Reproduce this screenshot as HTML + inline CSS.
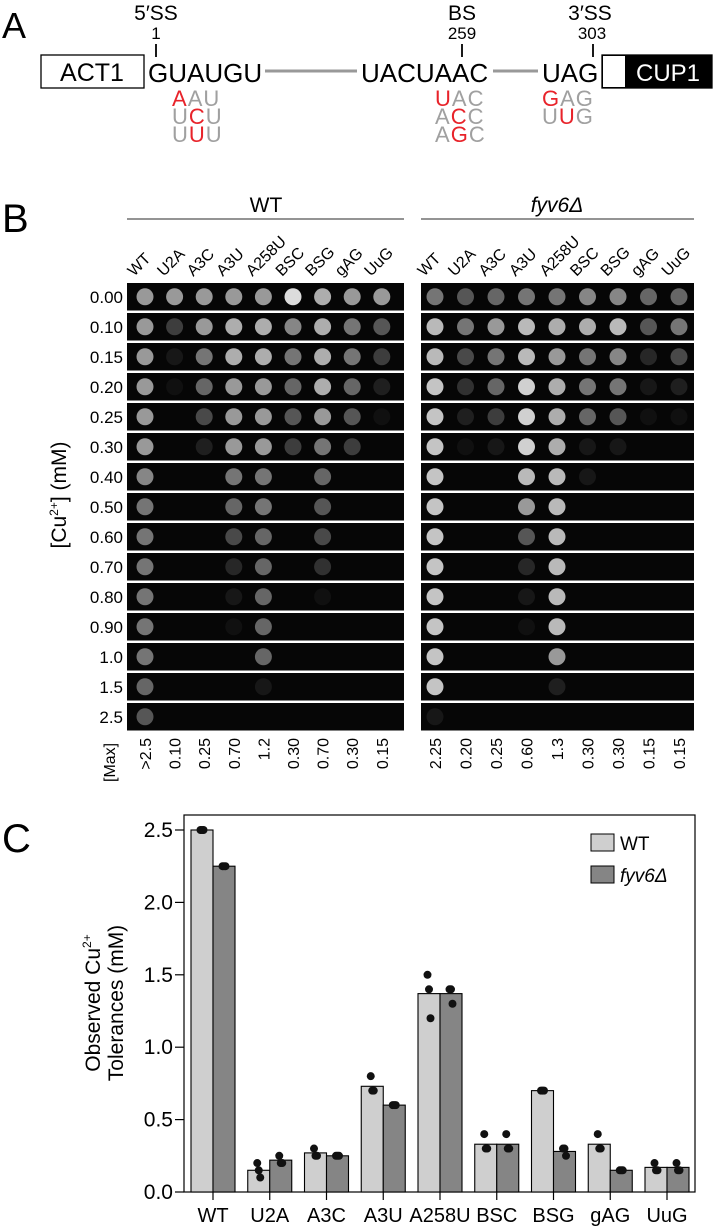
<!DOCTYPE html>
<html><head><meta charset="utf-8">
<style>
html,body{margin:0;padding:0;background:#fff;}
svg{display:block;font-family:"Liberation Sans",Arial,sans-serif;}
</style></head>
<body>
<svg id="fig" width="714" height="1227" viewBox="0 0 714 1227" xmlns="http://www.w3.org/2000/svg">
<!-- Panel A -->
<g>
<text x="2" y="38" font-size="36">A</text>
<rect x="41" y="55" width="103" height="33" fill="#fff" stroke="#000" stroke-width="1.3"/>
<text x="92" y="81" font-size="25" text-anchor="middle">ACT1</text>
<text x="156" y="20" font-size="21" text-anchor="middle">5′SS</text>
<text x="156" y="39" font-size="17" text-anchor="middle">1</text>
<line x1="156" y1="44" x2="156" y2="57" stroke="#000" stroke-width="1.8"/>
<text x="148" y="82" font-size="26">GUAUGU</text>
<line x1="265" y1="71" x2="357" y2="71" stroke="#999" stroke-width="3"/>
<text x="361" y="82" font-size="26">UACUAAC</text>
<text x="462" y="20" font-size="21" text-anchor="middle">BS</text>
<text x="462" y="39" font-size="17" text-anchor="middle">259</text>
<line x1="462" y1="44" x2="462" y2="57" stroke="#000" stroke-width="1.8"/>
<line x1="493" y1="71" x2="538" y2="71" stroke="#999" stroke-width="3"/>
<text x="542" y="82" font-size="26">UAG</text>
<text x="590" y="20" font-size="21" text-anchor="middle">3′SS</text>
<text x="592" y="39" font-size="17" text-anchor="middle">303</text>
<line x1="593" y1="44" x2="593" y2="57" stroke="#000" stroke-width="1.8"/>
<rect x="602" y="55" width="110" height="33" fill="#000" stroke="#000" stroke-width="1.3"/>
<rect x="603" y="56" width="22" height="31" fill="#fff"/>
<text x="668" y="81" font-size="24" fill="#fff" text-anchor="middle">CUP1</text>
<g font-size="22" fill="#a0a0a0" letter-spacing="1">
<text x="172" y="106"><tspan fill="#e8232a">A</tspan>AU</text>
<text x="172" y="124">U<tspan fill="#e8232a">C</tspan>U</text>
<text x="172" y="142">U<tspan fill="#e8232a">U</tspan>U</text>
<text x="435" y="106"><tspan fill="#e8232a">U</tspan>AC</text>
<text x="435" y="124">A<tspan fill="#e8232a">C</tspan>C</text>
<text x="435" y="142">A<tspan fill="#e8232a">G</tspan>C</text>
<text x="542" y="106"><tspan fill="#e8232a">G</tspan>AG</text>
<text x="542" y="124">U<tspan fill="#e8232a">U</tspan>G</text>
</g>
</g>
<!-- Panel B -->
<g id="panelB">
<text x="2" y="232" font-size="40">B</text>
<text x="266" y="212" font-size="21" text-anchor="middle">WT</text>
<line x1="127" y1="219" x2="404" y2="219" stroke="#555" stroke-width="1.3"/>
<text x="557" y="212" font-size="21" font-style="italic" text-anchor="middle">fyv6Δ</text>
<line x1="421" y1="219" x2="694" y2="219" stroke="#555" stroke-width="1.3"/>
<text transform="translate(66,495) rotate(-90)" font-size="21" text-anchor="middle">[Cu<tspan font-size="12" dy="-8">2+</tspan><tspan dy="8">] (mM)</tspan></text>
<text transform="translate(115,782) rotate(-90)" font-size="16">[Max]</text>
</g>
<!-- Panel C -->
<g id="panelC">
<text x="2" y="852" font-size="40">C</text>
<rect x="184" y="815" width="511" height="377" fill="none" stroke="#000" stroke-width="1.2"/>
<text transform="translate(100,1003) rotate(-90)" font-size="21" text-anchor="middle">Observed Cu<tspan font-size="12" dy="-9">2+</tspan></text>
<text transform="translate(123,1003) rotate(-90)" font-size="21" text-anchor="middle">Tolerances (mM)</text>
<rect x="591" y="834" width="23" height="17" fill="#cfcfcf" stroke="#000" stroke-width="1"/>
<text x="620" y="850" font-size="19">WT</text>
<rect x="591" y="866" width="23" height="17" fill="#858585" stroke="#000" stroke-width="1"/>
<text x="620" y="882" font-size="19" font-style="italic">fyv6Δ</text>
</g>
</svg>
<script>
const NS="http://www.w3.org/2000/svg";
// ---- Panel B data ----
const strains=["WT","U2A","A3C","A3U","A258U","BSC","BSG","gAG","UuG"];
const cuLevels=["0.00","0.10","0.15","0.20","0.25","0.30","0.40","0.50","0.60","0.70","0.80","0.90","1.0","1.5","2.5"];
const maxWT=[">2.5","0.10","0.25","0.70","1.2","0.30","0.70","0.30","0.15"];
const maxFyv6=["2.25","0.20","0.25","0.60","1.3","0.30","0.30","0.15","0.15"];
const growthWT=[
[.6,.6,.6,.6,.6,.85,.65,.6,.6],
[.6,.3,.6,.65,.65,.55,.65,.5,.4],
[.6,.1,.5,.65,.65,.5,.65,.5,.3],
[.6,.05,.45,.6,.6,.45,.65,.45,.15],
[.6,0,.35,.6,.6,.4,.6,.4,.05],
[.6,0,.15,.6,.6,.3,.5,.3,0],
[.55,0,0,.5,.5,0,.45,0,0],
[.5,0,0,.45,.5,0,.4,0,0],
[.5,0,0,.35,.45,0,.35,0,0],
[.5,0,0,.2,.45,0,.25,0,0],
[.5,0,0,.1,.45,0,.05,0,0],
[.5,0,0,.05,.45,0,0,0,0],
[.5,0,0,0,.45,0,0,0,0],
[.45,0,0,0,.1,0,0,0,0],
[.4,0,0,0,0,0,0,0,0]];
const growthFyv6=[
[.5,.4,.45,.5,.5,.55,.55,.45,.45],
[.7,.5,.6,.7,.65,.65,.7,.4,.5],
[.7,.35,.5,.7,.6,.5,.55,.2,.35],
[.75,.25,.45,.8,.65,.5,.5,.1,.15],
[.75,.15,.3,.8,.65,.45,.4,.05,.05],
[.75,.05,.1,.8,.65,.1,.1,0,0],
[.75,0,0,.7,.7,.1,0,0,0],
[.75,0,0,.6,.7,0,0,0,0],
[.75,0,0,.4,.7,0,0,0,0],
[.75,0,0,.2,.7,0,0,0,0],
[.75,0,0,.1,.7,0,0,0,0],
[.75,0,0,.05,.7,0,0,0,0],
[.75,0,0,0,.6,0,0,0,0],
[.75,0,0,0,.15,0,0,0,0],
[.1,0,0,0,0,0,0,0,0]];
// ---- Panel C data ----
const categories=["WT","U2A","A3C","A3U","A258U","BSC","BSG","gAG","UuG"];
const meanWT=[2.5,0.15,0.27,0.73,1.37,0.33,0.70,0.33,0.17];
const meanFyv6=[2.25,0.22,0.25,0.60,1.37,0.33,0.28,0.15,0.17];
const repsWT=[[2.5,2.5,2.5],[0.2,0.15,0.1],[0.3,0.25,0.25],[0.8,0.7,0.7],[1.5,1.4,1.2],[0.4,0.3,0.3],[0.7,0.7,0.7],[0.4,0.3,0.3],[0.2,0.15,0.15]];
const repsFyv6=[[2.25,2.25,2.25],[0.25,0.2,0.2],[0.25,0.25,0.25],[0.6,0.6,0.6],[1.4,1.4,1.3],[0.4,0.3,0.3],[0.3,0.3,0.25],[0.15,0.15,0.15],[0.2,0.15,0.15]];
const yTicks=[0,0.5,1.0,1.5,2.0,2.5];

function mk(tag,attrs,parent){const e=document.createElementNS(NS,tag);for(const k in attrs)e.setAttribute(k,attrs[k]);parent.appendChild(e);return e;}

// Panel B
const pb=document.getElementById("panelB");
const rowY=i=>283+i*30;
const panels=[{x0:127,w:277,cx:i=>145+i*29.6,g:growthWT,max:maxWT},{x0:421,w:273,cx:i=>435+i*30.5,g:growthFyv6,max:maxFyv6}];
panels.forEach(p=>{
  strains.forEach((s,j)=>{
    const t=mk("text",{transform:`translate(${p.cx(j)-11},277) rotate(-45)`,"font-size":"16"},pb);
    t.textContent=s;
    
    
    const m=mk("text",{transform:`translate(${p.cx(j)+6},738) rotate(-90)`,"font-size":"16","text-anchor":"end"},pb);
    m.textContent=p.max[j];
    
    
  });
  cuLevels.forEach((lv,i)=>{
    const r=mk("rect",{x:p.x0,y:rowY(i),width:p.w,height:27.5,fill:"#060606"},pb);
    
    
    strains.forEach((s,j)=>{
      const v=p.g[i][j];
      if(v<=0)return;
      const c=Math.round(20+v*235);
      const sp=mk("circle",{cx:p.cx(j),cy:rowY(i)+13.75,r:8.5,fill:`rgb(${c},${c},${c})`,opacity:Math.min(1,0.35+v)},pb);
      
      
    });
  });
});
cuLevels.forEach((lv,i)=>{
  const t=mk("text",{x:123,y:rowY(i)+20,"font-size":"17","text-anchor":"end"},pb);
  t.textContent=lv;
  
  
});

// Panel C
const pc=document.getElementById("panelC");
const yS=v=>1192-v*144.8;
const xS=i=>213+i*56.75;
const bw=22;
yTicks.forEach(v=>{
  const l=mk("line",{x1:175,x2:184,y1:yS(v),y2:yS(v),stroke:"#000","stroke-width":1.2},pc);
  
  
  const t=mk("text",{x:173,y:yS(v)+7,"font-size":"21","text-anchor":"end"},pc);
  t.textContent=v.toFixed(1);
  
  
});
const offs=[-3,0,3];
categories.forEach((c,i)=>{
  const x=xS(i);
  const b1=mk("rect",{x:x-bw,y:yS(meanWT[i]),width:bw,height:yS(0)-yS(meanWT[i]),fill:"#cfcfcf",stroke:"#000","stroke-width":1.1},pc);
  
  
  const b2=mk("rect",{x:x,y:yS(meanFyv6[i]),width:bw,height:yS(0)-yS(meanFyv6[i]),fill:"#858585",stroke:"#000","stroke-width":1.1},pc);
  
  
  repsWT[i].forEach((v,k)=>{
    const d=mk("circle",{cx:x-bw/2+offs[k]*0.5,cy:yS(v),r:4,fill:"#111"},pc);
    
    
  });
  repsFyv6[i].forEach((v,k)=>{
    const d=mk("circle",{cx:x+bw/2+offs[k]*0.5,cy:yS(v),r:4,fill:"#111"},pc);
    
    
  });
  const tk=mk("line",{x1:x,x2:x,y1:1192,y2:1200,stroke:"#000","stroke-width":1.2},pc);
  
  
  const t=mk("text",{x:x,y:1222,"font-size":"20","text-anchor":"middle"},pc);
  t.textContent=c;
  
  
});
</script>
</body></html>
